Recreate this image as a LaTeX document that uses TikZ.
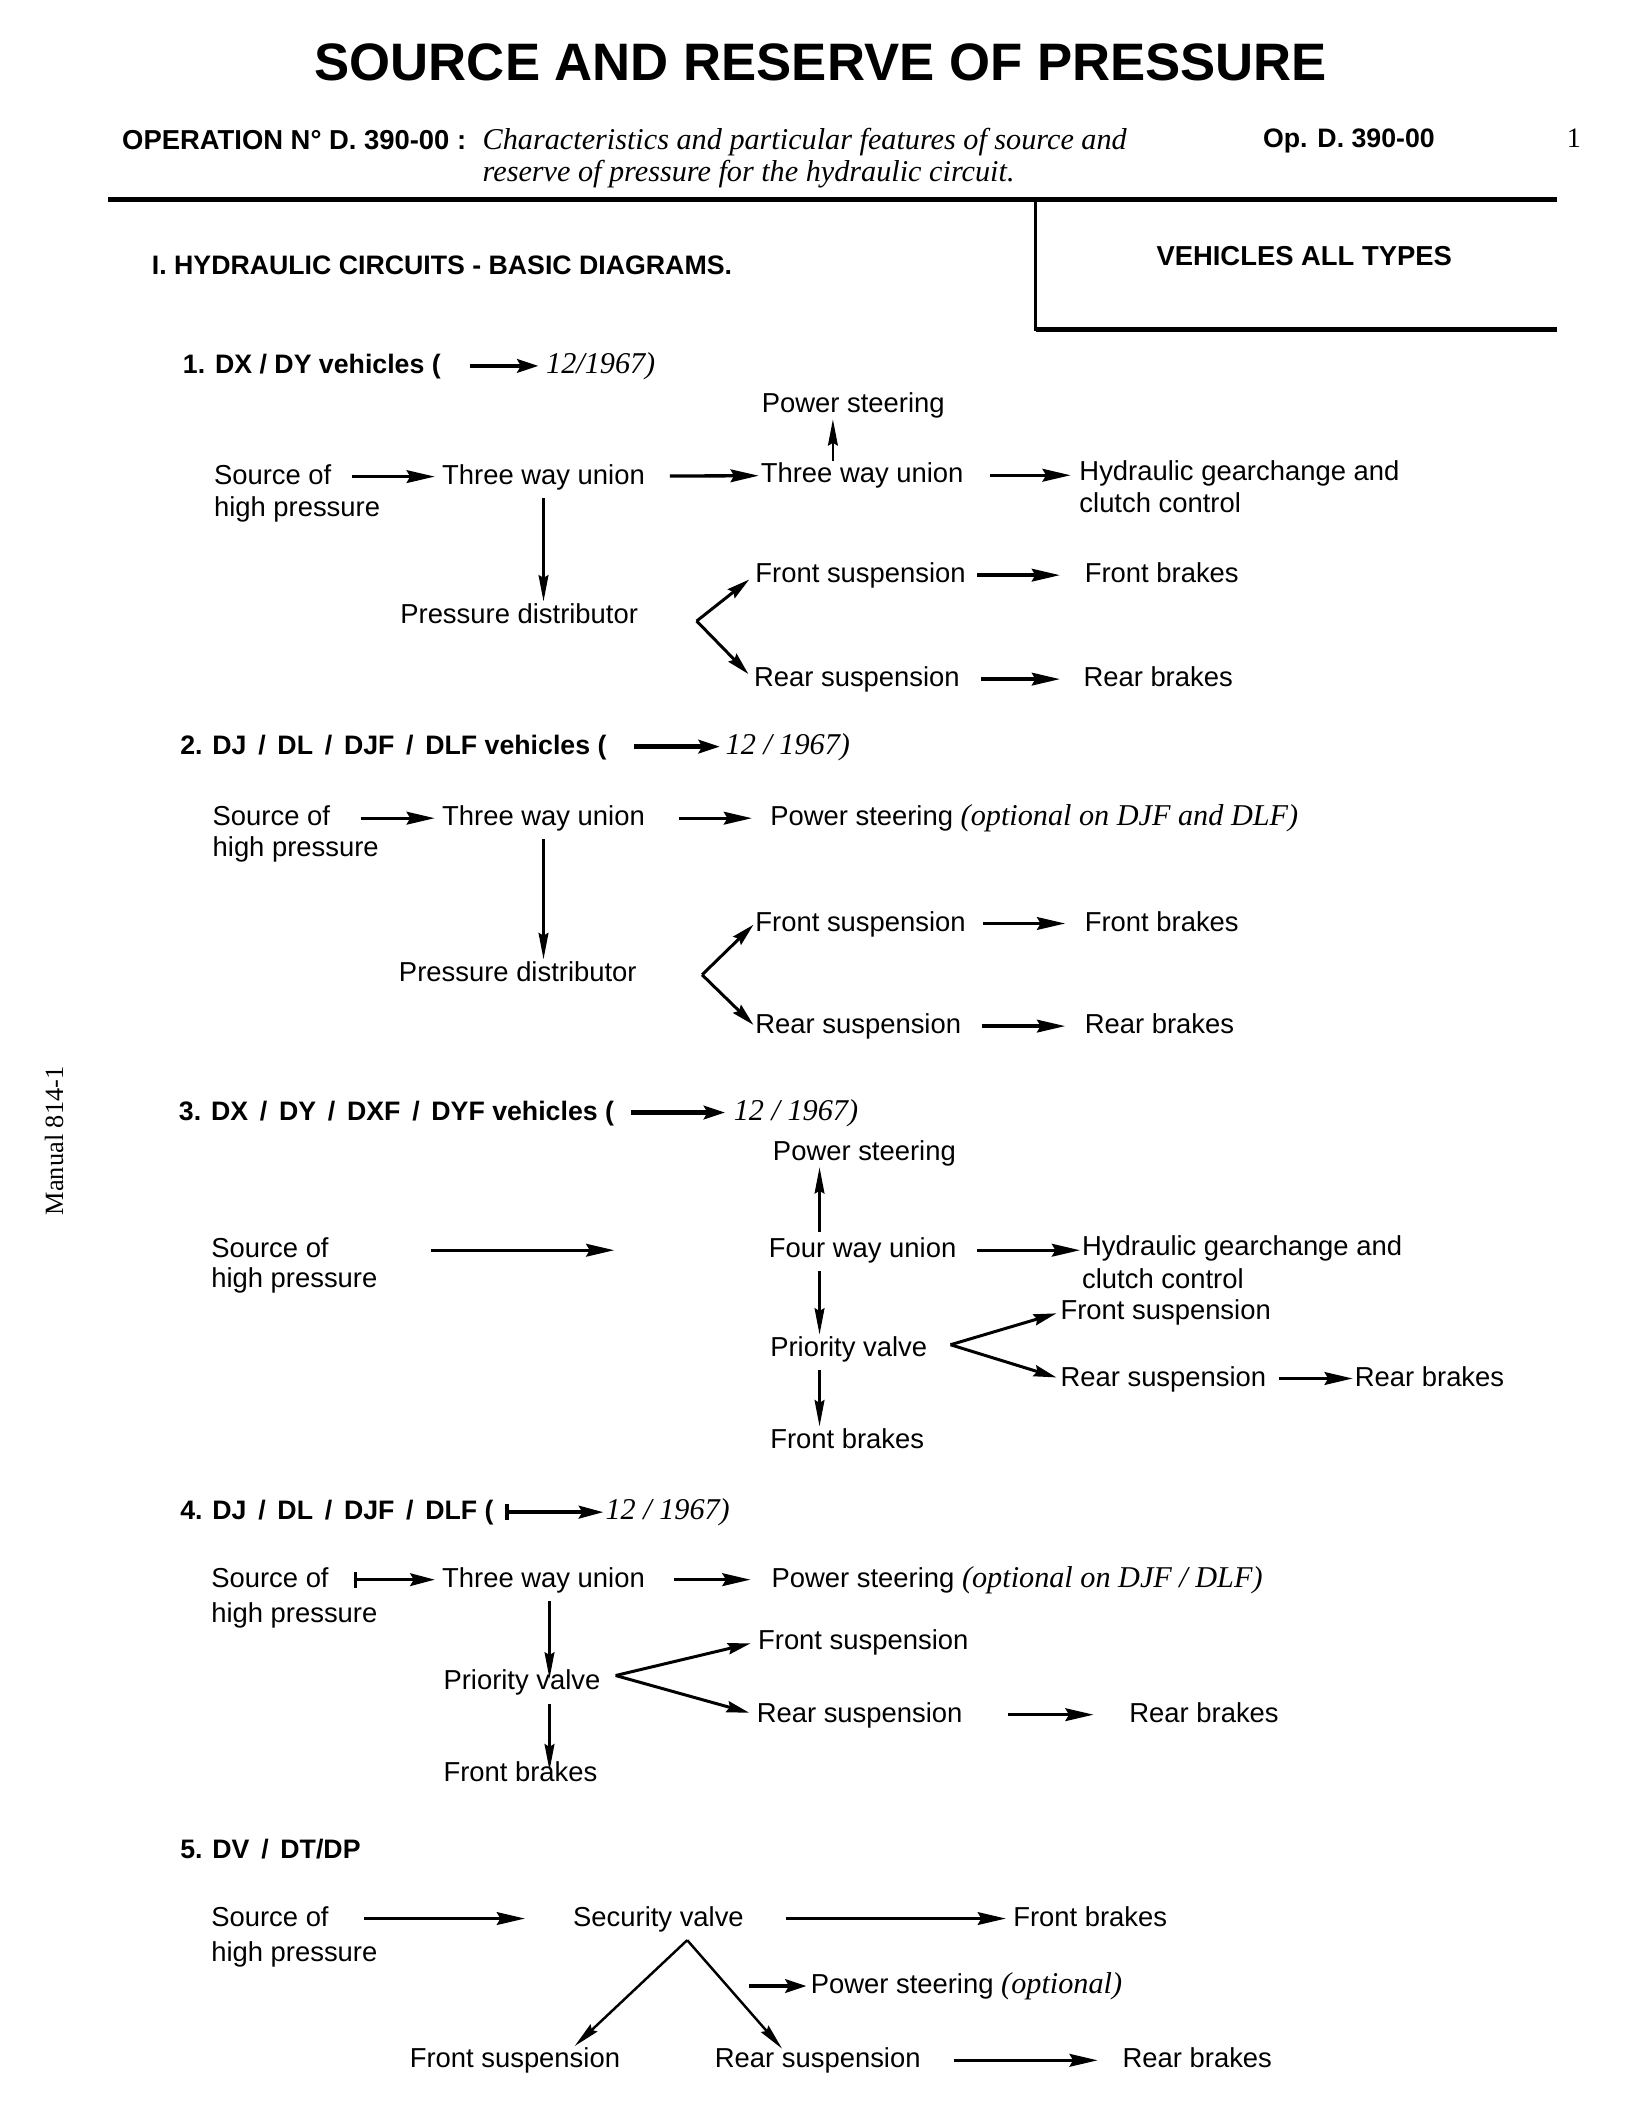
\documentclass[tikz,border=0pt]{standalone}
\usepackage{fontspec}
\setmainfont{Liberation Serif}
\setsansfont{Liberation Sans}
\usetikzlibrary{arrows.meta}
\newcommand\lblfont{\sffamily\fontsize{7.8}{9.5}\selectfont}
\newcommand\hdfont{\sffamily\bfseries\fontsize{7.6}{9.5}\selectfont}
\newcommand\itfont{\rmfamily\itshape\fontsize{8.6}{10}\selectfont}
\newcommand\hsl{\hspace{.44em}/\hspace{.44em}}
\begin{document}
\begin{tikzpicture}[x=0.0135cm,y=-0.0135cm,
  lbl/.style={font=\lblfont, inner sep=0pt, anchor=west, text height=6pt, text depth=1.7pt},
  hd/.style={lbl, font=\hdfont},
  it/.style={lbl, font=\itfont},
  arr/.style={-{Stealth[length=8pt,width=3.6pt,inset=1pt]}, line width=.95pt},
  varr/.style={-{Stealth[length=7.5pt,width=2.8pt,inset=.8pt]}, line width=.7pt},
  darr/.style={-{Stealth[length=6.5pt,width=3.2pt,inset=.8pt]}, line width=.85pt},
  harr/.style={-{Stealth[length=6pt,width=3.8pt,inset=1pt]}, line width=1.3pt},
  barr/.style={{Bar[width=4.5pt]}-{Stealth[length=7pt,width=3.6pt,inset=1pt]}, line width=1.1pt}]
\useasboundingbox (0,0) rectangle (1217,1568);
% header
\node[font=\sffamily\bfseries\fontsize{15}{18}\selectfont, inner sep=0pt] (title) at (608,46) {SOURCE AND RESERVE OF PRESSURE};
\node[hd, font=\sffamily\bfseries\fontsize{7.8}{9.5}\selectfont] (op) at (90,105) {OPERATION N° D. 390-00 :};
\node[lbl, font=\rmfamily\itshape\fontsize{8.6}{10}\selectfont] (desc1) at (357,105) {Characteristics and particular features of source and};
\node[lbl, font=\rmfamily\itshape\fontsize{8.6}{10}\selectfont] (desc2) at (357,129) {reserve of pressure for the hydraulic circuit.};
\node[hd] (opno) at (935,104) {Op. D. 390-00};
\node[lbl, font=\rmfamily\fontsize{8}{10}\selectfont] (pg) at (1160,104) {1};
\draw[line width=1.5pt] (80,148) -- (1153,148);
\draw[line width=1pt] (767,148) -- (767,245);
\draw[line width=1.6pt] (767,244) -- (1153,244);
\node[hd] (sec) at (112,198) {I. HYDRAULIC CIRCUITS - BASIC DIAGRAMS.};
\node[hd, anchor=center, font=\sffamily\bfseries\fontsize{7.8}{9.5}\selectfont] (veh) at (966,191) {VEHICLES ALL TYPES};
\node[rotate=90, font=\rmfamily\fontsize{7.5}{9}\selectfont] (man) at (40,845) {Manual 814-1};

% 1. DX / DY
\node[hd] (h1a) at (135,271) {1. DX / DY vehicles (};
\node[it] (h1b) at (404,271) {12/1967)};
\draw[harr, shorten <=8pt, shorten >=2pt] (h1a) -- (h1b);
\node[lbl] (s1) at (158,353) {Source of};
\node[lbl] (s1b) at (158,377) {high pressure};
\node[lbl] (u1) at (327,353) {Three way union};
\node[lbl] (u2) at (563,352) {Three way union};
\node[lbl, anchor=center] (ps1) at (632,300) {Power steering};
\node[lbl] (hy1) at (799,350) {Hydraulic gearchange and};
\node[lbl] (hy1b) at (799,374) {clutch control};
\node[lbl] (pd1) at (296,456) {Pressure distributor};
\node[lbl] (fs1) at (559,426) {Front suspension};
\node[lbl] (fb1) at (803,426) {Front brakes};
\node[lbl] (rs1) at (558,503) {Rear suspension};
\node[lbl] (rb1) at (802,503) {Rear brakes};
\coordinate (v1) at (516,460);
\draw[arr, shorten <=5.8pt, shorten >=1.9pt] (s1) -- (u1);
\draw[arr, shorten <=6.9pt, shorten >=.4pt] (u1) -- (u2);
\draw[arr, shorten <=7.3pt, shorten >=2.3pt] (u2) -- (u2 -| hy1.west);
\draw[varr] ([xshift=-5.8pt]ps1.south |- u2.north) -- ([xshift=-5.8pt]ps1.south);
\draw[varr, shorten <=2pt] (u1.south) -- (u1.south |- pd1.north);
\draw[darr, shorten >=2pt] (v1) -- (fs1.west);
\draw[darr, shorten >=2pt] (v1) -- (rs1.west);
\draw[arr, shorten <=3.1pt, shorten >=6.9pt] (fs1) -- (fb1);
\draw[arr, shorten <=5.8pt, shorten >=6.5pt] (rs1) -- (rb1);

% 2. DJ / DL / DJF / DLF
\node[hd] (h2a) at (133,553) {2. DJ\hsl DL\hsl DJF\hsl DLF vehicles (};
\node[it] (h2b) at (537,553) {12 / 1967)};
\draw[harr, shorten <=7.7pt, shorten >=1.5pt] (h2a) -- (h2b);
\node[lbl] (s2) at (157,606) {Source of};
\node[lbl] (s2b) at (157,629) {high pressure};
\node[lbl] (u3) at (327,606) {Three way union};
\node[lbl] (p2) at (570,606) {Power steering {\itfont (optional on DJF and DLF)}};
\node[lbl] (pd2) at (295,721) {Pressure distributor};
\node[lbl] (fs2) at (559,684) {Front suspension};
\node[lbl] (fb2) at (803,684) {Front brakes};
\node[lbl] (rs2) at (559,760) {Rear suspension};
\node[lbl] (rb2) at (803,760) {Rear brakes};
\coordinate (v2) at (520,722);
\draw[arr, shorten <=8.5pt, shorten >=1.9pt] (s2) -- (u3);
\draw[arr, shorten <=9.6pt, shorten >=5pt] (u3) -- (p2);
\draw[varr, shorten <=2pt] (u3.south) -- (u3.south |- pd2.north);
\draw[darr, shorten >=.5pt] (v2) -- (fs2.west);
\draw[darr, shorten >=.5pt] (v2) -- (rs2.west);
\draw[arr, shorten <=4.6pt, shorten >=5.4pt] (fs2) -- (fb2);
\draw[arr, shorten <=5.8pt, shorten >=5.4pt] (rs2) -- (rb2);

% 3. DX / DY / DXF / DYF
\node[hd] (h3a) at (132,824) {3. DX\hsl DY\hsl DXF\hsl DYF vehicles (};
\node[it] (h3b) at (543,824) {12 / 1967)};
\draw[harr, shorten <=4.6pt, shorten >=2.3pt] (h3a) -- (h3b);
\node[lbl] (ps3) at (572,854) {Power steering};
\node[lbl] (s3) at (156,926) {Source of};
\node[lbl] (s3b) at (156,948) {high pressure};
\coordinate (e3) at (455,926);
\node[lbl] (fu) at (569,926) {Four way union};
\node[lbl] (hy3) at (801,924) {Hydraulic gearchange and};
\node[lbl] (hy3b) at (801,949) {clutch control};
\node[lbl] (pv3) at (570,999) {Priority valve};
\node[lbl] (fs3) at (785,972) {Front suspension};
\node[lbl] (rs3) at (785,1021) {Rear suspension};
\node[lbl] (rb3) at (1003,1021) {Rear brakes};
\node[lbl] (fb3) at (570,1067) {Front brakes};
\coordinate (c3) at (607,0);
\coordinate (v3) at (704,996);
\draw[arr, shorten <=28.9pt] (s3) -- (e3);
\draw[varr, shorten <=1pt] (fu.north -| c3) -- (ps3.south -| c3);
\draw[arr, shorten <=5.8pt, shorten >=.4pt] (fu) -- (fu -| hy3.west);
\draw[varr, shorten <=2pt] (fu.south -| c3) -- (pv3.north -| c3);
\draw[darr, shorten >=1pt] (v3) -- (fs3.west);
\draw[darr, shorten >=1pt] (v3) -- (rs3.west);
\draw[arr, shorten <=3.5pt, shorten >=.4pt] (rs3) -- (rb3);
\draw[varr, shorten <=2pt] (pv3.south -| c3) -- (fb3.north -| c3);

% 4. DJ / DL / DJF / DLF
\node[hd] (h4a) at (133,1120) {4. DJ\hsl DL\hsl DJF\hsl DLF (};
\node[it] (h4b) at (448,1120) {12 / 1967)};
\draw[barr, shorten <=3pt, shorten >=.4pt] (h4a) -- (h4b);
\node[lbl] (s4) at (156,1170) {Source of};
\node[lbl] (s4b) at (156,1196) {high pressure};
\node[lbl] (u4) at (327,1170) {Three way union};
\node[lbl] (p4) at (571,1170) {Power steering {\itfont (optional on DJF / DLF)}};
\node[lbl] (pv4) at (328,1246) {Priority valve};
\node[lbl] (fb4) at (328,1314) {Front brakes};
\node[lbl] (fs4) at (561,1216) {Front suspension};
\node[lbl] (rs4) at (560,1270) {Rear suspension};
\node[lbl] (rb4) at (836,1270) {Rear brakes};
\coordinate (c4) at (407,0);
\coordinate (v4) at (456,1241);
\draw[barr, line width=.9pt, shorten <=6.9pt, shorten >=1.9pt] (s4) -- (u4);
\draw[arr, shorten <=8.1pt, shorten >=5.8pt] (u4) -- (p4);
\draw[varr, shorten <=2pt, shorten >=-3pt] (u4.south -| c4) -- (pv4.north -| c4);
\draw[varr, shorten <=2pt, shorten >=-3pt] (pv4.south -| c4) -- (fb4.north -| c4);
\draw[darr, shorten >=2pt] (v4) -- (fs4.west);
\draw[darr, shorten >=2pt] (v4) -- (rs4.west);
\draw[arr, shorten <=12.7pt, shorten >=10pt] (rs4) -- (rb4);

% 5. DV / DT / DP
\node[hd] (h5) at (133,1371) {5. DV\hsl DT/DP};
\node[lbl] (s5) at (156,1421) {Source of};
\node[lbl] (s5b) at (156,1447) {high pressure};
\node[lbl] (sv) at (424,1421) {Security valve};
\node[lbl] (fb5) at (750,1421) {Front brakes};
\node[lbl] (ps5) at (600,1471) {Power steering {\itfont (optional)}};
\node[lbl] (fs5) at (303,1526) {Front suspension};
\node[lbl] (rs5) at (529,1526) {Rear suspension};
\node[lbl] (rb5) at (831,1526) {Rear brakes};
\coordinate (v5) at (509,1437);
\coordinate (p5) at (555,1471);
\draw[arr, shorten <=10pt, shorten >=13.5pt] (s5) -- (sv);
\draw[arr, shorten <=11.9pt, shorten >=1.9pt] (sv) -- (fb5);
\draw[varr] (v5) -- ([xshift=17pt]fs5.north);
\draw[varr, shorten >=-1pt] (v5) -- ([xshift=-10.8pt]rs5.north);
\draw[harr, shorten >=1pt] (p5) -- (ps5.west);
\draw[arr, shorten <=9.2pt, shorten >=6.9pt] (rs5) -- (rb5);
\end{tikzpicture}
\end{document}
